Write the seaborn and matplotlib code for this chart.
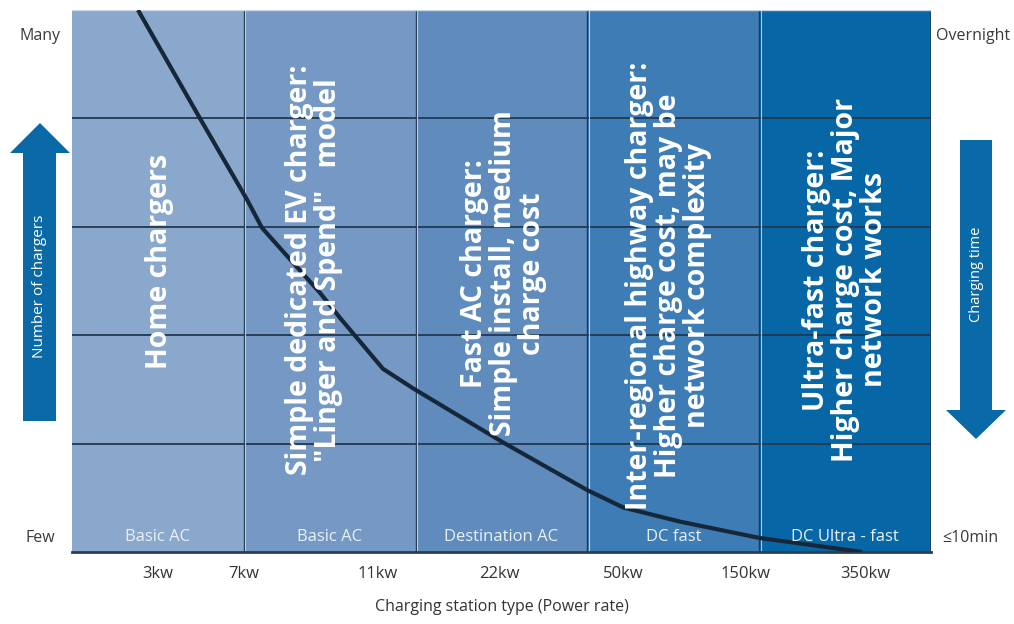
import matplotlib
matplotlib.use("Agg")
import matplotlib.pyplot as plt
from matplotlib.patches import Polygon
import numpy as np
import pandas as pd
import seaborn as sns

# Charger categories (one band each)
band_labels = ["Basic AC", "Basic AC", "Destination AC", "DC fast", "DC Ultra - fast"]
band_titles = [
    "Home chargers",
    "Simple dedicated EV charger:\n\"Linger and Spend\"   model",
    "Fast AC charger:\nSimple install, medium\ncharge cost",
    "Inter-regional highway charger:\nHigher charge cost, may be\nnetwork complexity",
    "Ultra-fast charger:\nHigher charge cost, Major\nnetwork works",
]
band_colors = ["#8aa8cc", "#7599c4", "#608cbd", "#3d7cb5", "#0767a6"]

# Power-rate tick labels and where they sit along the band axis
power_ticks = [0.5, 1.0, 1.78, 2.49, 3.21, 3.92, 4.62]
power_labels = ["3kw", "7kw", "11kw", "22kw", "50kw", "150kw", "350kw"]

# Number-of-chargers curve (relative scale 0 = few, 5 = many)
curve_x = [0.384, 0.745, 1.019, 1.106, 1.444, 1.56, 1.81, 1.985, 2.51, 3.0, 3.21, 3.54, 4.0, 4.60]
curve_y = [5.0, 4.0, 3.25, 2.99, 2.39, 2.16, 1.69, 1.51, 1.01, 0.57, 0.41, 0.28, 0.13, 0.0]

sns.set_theme(style="white")
plt.rcParams["font.family"] = ["Open Sans", "DejaVu Sans"]

W, H = 1014, 624
fig = plt.figure(figsize=(W / 100, H / 100), dpi=100)
ax = fig.add_axes([72 / W, 72 / H, (931 - 72) / W, (552 - 10) / H])

n_bands = len(band_labels)
for i, c in enumerate(band_colors):
    ax.axvspan(i, i + 1, color=c, lw=0, zorder=0)

grid_color = "#22384f"
for yv in range(1, 5):
    ax.axhline(yv, color=grid_color, lw=1.3, zorder=1)
for xv in range(1, n_bands):
    ax.axvline(xv, color=grid_color, lw=1.0, zorder=1)
    ax.axvline(xv + 0.009, color="#d6e2ee", lw=0.8, alpha=0.8, zorder=1)

df = pd.DataFrame({"power": curve_x, "chargers": curve_y})
sns.lineplot(data=df, x="power", y="chargers", ax=ax, color="#16273a",
             lw=3.0, sort=False, zorder=3)
for ln in ax.lines[-1:]:
    ln.set_solid_joinstyle("round")
    ln.set_solid_capstyle("butt")

# Rotated band descriptions
title_pos = [(0.51, 2.68), (1.41, 2.60), (2.51, 2.57), (3.47, 2.46), (4.50, 2.51)]
for (tx, ty), t in zip(title_pos, band_titles):
    ax.text(tx, ty, t, rotation=90, ha="center", va="center", multialignment="center",
            color="white", fontsize=20.5, fontweight="bold", linespacing=1.0, zorder=4)

for i, lab in enumerate(band_labels):
    ax.text(i + 0.5, 0.14, lab, ha="center", va="center", color="#eaf0f6",
            fontsize=12, fontweight="medium", zorder=4)

ax.set_xlim(0, n_bands)
ax.set_ylim(0, 5)
ax.set_xticks(power_ticks)
ax.set_xticklabels(power_labels, fontsize=12, color="#333333")
ax.tick_params(axis="x", length=0, pad=10)
ax.set_yticks([])
ax.set_xlabel("Charging station type (Power rate)", fontsize=11.5, color="#333333", labelpad=12)
ax.set_ylabel("")
for s in ["left", "top", "right"]:
    ax.spines[s].set_visible(False)
ax.spines["bottom"].set_color("#2b3e52")
ax.spines["bottom"].set_linewidth(2.0)
ax.axvline(n_bands, color="#23405c", lw=1.2, zorder=2)
ax.axhline(5, color="#c8d6e4", lw=1.0, zorder=2)

# Decorations in figure pixel space
deco = fig.add_axes([0, 0, 1, 1], zorder=-1)
deco.set_xlim(0, W)
deco.set_ylim(H, 0)
deco.axis("off")
arrow_color = "#0a6aa7"
up = [(23, 421), (23, 153), (10, 153), (40, 123), (70, 153), (56, 153), (56, 421)]
down = [(960, 140), (960, 410), (946, 410), (976, 439), (1006, 410), (992, 410), (992, 140)]
deco.add_patch(Polygon(up, closed=True, color=arrow_color, lw=0))
deco.add_patch(Polygon(down, closed=True, color=arrow_color, lw=0))
deco.text(40, 286, "Number of chargers", rotation=90, ha="center", va="center",
          color="white", fontsize=11)
deco.text(976, 274, "Charging time", rotation=90, ha="center", va="center",
          color="white", fontsize=10.5)
side_kw = dict(fontsize=11.5, color="#3a3a3a", va="center")
deco.text(40, 36, "Many", ha="center", **side_kw)
deco.text(40, 538, "Few", ha="center", **side_kw)
deco.text(973, 36, "Overnight", ha="center", **side_kw)
deco.text(970, 538, "\u226410min", ha="center", **side_kw)

fig.savefig("out.png", dpi=100, facecolor="white")
